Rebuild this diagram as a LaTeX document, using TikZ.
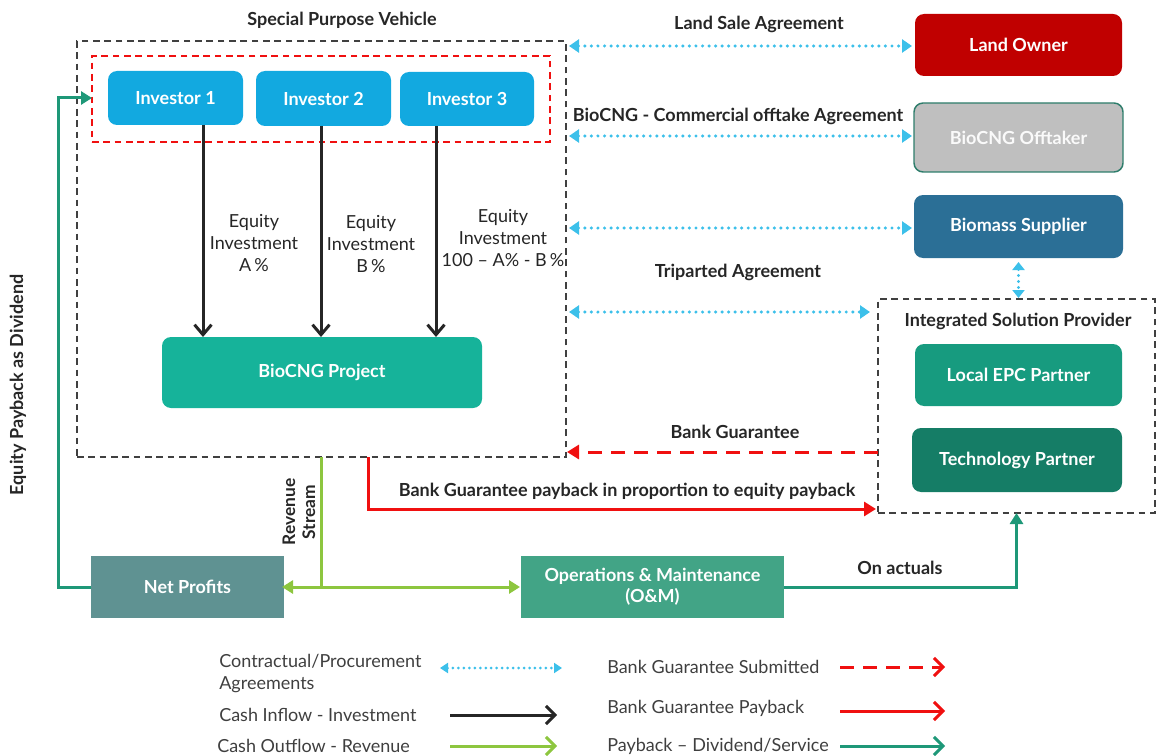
\documentclass[tikz,border=0pt]{standalone}
\usepackage{fontspec}
\setmainfont{Lato}
\usetikzlibrary{arrows.meta,calc}
\definecolor{invc}{HTML}{12A9E0}
\definecolor{agrc}{HTML}{3CC0EA}
\definecolor{projc}{HTML}{16B39A}
\definecolor{landc}{HTML}{C00000}
\definecolor{offc}{HTML}{BFBFBF}
\definecolor{offb}{HTML}{2E7D6B}
\definecolor{bioc}{HTML}{2B6F96}
\definecolor{epcc}{HTML}{179B7F}
\definecolor{techc}{HTML}{157D66}
\definecolor{netc}{HTML}{5F9292}
\definecolor{omc}{HTML}{42A486}
\definecolor{greenc}{HTML}{8DC63F}
\definecolor{tealc}{HTML}{1E9878}
\definecolor{redc}{HTML}{F01010}
\definecolor{darkc}{HTML}{262626}
\definecolor{dashc}{HTML}{404040}
\definecolor{legc}{HTML}{3F3F3F}
\begin{document}
\begin{tikzpicture}[x=0.75pt,y=-0.75pt,
  box/.style={rounded corners=6.75pt, inner sep=0pt, outer sep=0pt, text=white, align=center,
    font=\bfseries\fontsize{13.5}{16}\selectfont},
  sqbox/.style={box, rounded corners=0pt},
  frame/.style={draw=dashc, dash pattern=on 5pt off 3.5pt, line width=1pt, inner sep=0pt, outer sep=0pt},
  lbl/.style={text=darkc, font=\bfseries\fontsize{13.5}{16}\selectfont, align=center, inner sep=0pt},
  eq/.style={text=darkc, font=\fontsize{13.5}{16.2}\selectfont, align=center, inner sep=0pt},
  leg/.style={text=legc, font=\fontsize{13.5}{16.5}\selectfont, align=left, inner sep=0pt, anchor=west},
  inv/.style={draw=darkc, line width=2.25pt, -{Straight Barb[length=7.5pt, width=12.75pt, line width=2.25pt]}},
  agr/.style={draw=agrc, line width=2.6pt, line cap=round, dash pattern=on 0pt off 4.9pt,
    {Triangle[length=7.5pt, width=9.75pt]}-{Triangle[length=7.5pt, width=9.75pt]}},
  agrv/.style={draw=agrc, line width=2.6pt, line cap=round, dash pattern=on 0pt off 4.5pt,
    {Triangle[length=6pt, width=9pt]}-{Triangle[length=6pt, width=9pt]}},
  bgs/.style={draw=redc, line width=2.25pt, dash pattern=on 10.5pt off 6.75pt, -{Triangle[length=9pt, width=10.5pt]}},
  bgp/.style={draw=redc, line width=2.25pt, -{Triangle[length=9pt, width=10.5pt]}},
  cashout/.style={draw=greenc, line width=2.25pt, -{Triangle[length=8.25pt, width=9.75pt]}},
  pay/.style={draw=tealc, line width=2.25pt, -{Triangle[length=8.25pt, width=9.75pt]}},
  legbar/.style={line width=2.25pt, -{Straight Barb[length=6.75pt, width=13.5pt, line width=2.25pt]}},
]
\useasboundingbox (0,0) rectangle (1156,756);

% frames
\node[frame, minimum width=366.75pt, minimum height=312pt] (spv) at (321.5,249) {};
\node[draw=redc, dash pattern=on 5pt off 3.5pt, line width=1pt, inner sep=0pt, outer sep=0pt,
      minimum width=343.5pt, minimum height=64.5pt] (rbox) at (321,99) {};
\node[frame, minimum width=207.75pt, minimum height=160.5pt] (isp) at (1016.5,406) {};

\node[lbl] (spvt) at (342,20) {Special Purpose Vehicle};
\node[lbl] (ispt) at (1018,321) {Integrated Solution Provider};

% investor boxes
\node[box, fill=invc, minimum width=101.25pt, minimum height=40.5pt] (inv1) at (175.5,98) {Investor 1};
\node[box, fill=invc, minimum width=101.25pt, minimum height=41.25pt] (inv2) at (323.5,98.5) {Investor 2};
\node[box, fill=invc, minimum width=100.5pt, minimum height=40.5pt] (inv3) at (467,99) {Investor 3};
\node[box, fill=projc, minimum width=240pt, minimum height=53.25pt] (proj) at (322,372.5) {BioCNG Project};

% right boxes
\node[box, fill=landc, minimum width=155.25pt, minimum height=46.5pt] (land) at (1018.5,45) {Land Owner};
\node[box, fill=offc, draw=offb, line width=1.1pt, text=white!92!offc, minimum width=156.75pt, minimum height=51.75pt] (off) at (1018.5,137.5) {BioCNG Offtaker};
\node[box, fill=bioc, minimum width=156.75pt, minimum height=47.25pt] (bio) at (1018.5,226.5) {Biomass Supplier};
\node[box, fill=epcc, minimum width=155.25pt, minimum height=46.5pt] (epc) at (1018.5,375) {Local EPC Partner};
\node[box, fill=techc, minimum width=157.5pt, minimum height=48pt] (tech) at (1017,460) {Technology Partner};

% bottom boxes
\node[sqbox, fill=netc, minimum width=144.75pt, minimum height=46.5pt] (net) at (187.5,587) {Net Profits};
\node[sqbox, fill=omc, minimum width=197.25pt, minimum height=46.5pt] (om) at (652.5,587) {Operations \& Maintenance\\(O\&M)};

% equity arrows
\coordinate (c1) at (203,0);
\coordinate (c2) at (321,0);
\coordinate (c3) at (436,0);
\draw[inv] (inv1.south -| c1) -- (proj.north -| c1);
\draw[inv] (inv2.south -| c2) -- (proj.north -| c2);
\draw[inv] (inv3.south -| c3) -- (proj.north -| c3);
\node[eq] (e1) at (254,243) {Equity\\Investment\\A\,\%};
\node[eq] (e2) at (371,244) {Equity\\Investment\\B\,\%};
\node[eq] (e3) at (503,238) {Equity\\Investment\\100 -- A\% - B\,\%};

% agreements
\coordinate (ag1) at (0,46);
\coordinate (ag2) at (0,136);
\coordinate (ag3) at (0,228);
\coordinate (ag4) at (0,312);
\draw[agr, shorten <=2.25pt, shorten >=2.25pt] (spv.east |- ag1) -- (land.west |- ag1);
\draw[agr, shorten <=2.25pt, shorten >=1.5pt] (spv.east |- ag2) -- (off.west |- ag2);
\draw[agr, shorten <=2.25pt, shorten >=1.5pt] (spv.east |- ag3) -- (bio.west |- ag3);
\draw[agr, shorten <=2.25pt, shorten >=6pt] (spv.east |- ag4) -- (isp.west |- ag4);
\draw[agrv, shorten <=3pt, shorten >=0.75pt] (bio.south) -- (isp.north -| bio.south);
\node[lbl] (l1) at (759,24) {Land Sale Agreement};
\node[lbl] (l2) at (738,116) {BioCNG - Commercial offtake Agreement};
\node[lbl] (l3) at (738,272) {Triparted Agreement};

% bank guarantee
\coordinate (bg) at (0,452);
\draw[bgs, shorten >=0.75pt] (isp.west |- bg) -- (spv.east |- bg);
\node[lbl] (l4) at (735,432) {Bank Guarantee};
\coordinate (rp) at (368,509);
\draw[bgp, shorten >=1.5pt] (spv.south -| rp) -- (rp) -- (isp.west |- rp);
\node[lbl] (l5) at (627,491) {Bank Guarantee payback in proportion to equity payback};

% revenue
\coordinate (g) at (321,0);
\draw[greenc, line width=2.25pt] (spv.south -| g) -- (g |- net.east);
\draw[cashout, shorten >=-1.5pt] (g |- net.east) -- (net.east);
\draw[cashout, shorten >=0.75pt] (g |- om.west) -- (om.west);
\node[lbl, rotate=90, font=\bfseries\fontsize{13}{15}\selectfont] (l6) at (299,512) {Revenue\\Stream};

% payback
\draw[pay] (om.east) -| (isp.south);
\node[lbl] (l7) at (900,568) {On actuals};
\coordinate (e) at (58,0);
\draw[pay] (net.west) -- (net.west -| e) -- (e |- inv1.west) -- (rbox.west |- inv1.west);
\node[lbl, rotate=90] (l8) at (18,385) {Equity Payback as Dividend};

% legend
\node[leg] (lg1) at (219,674) {Contractual/Procurement\\Agreements};
\node[leg] (lg2) at (219,715) {Cash Inflow - Investment};
\node[leg] (lg3) at (217,746) {Cash Outflow - Revenue};
\node[leg] (lg4) at (607,667) {Bank Guarantee Submitted};
\node[leg] (lg5) at (607,708) {Bank Guarantee Payback};
\node[leg] (lg6) at (607,746) {Payback -- Dividend/Service};
\coordinate (la1) at (440,668); \coordinate (lb1) at (562,668);
\coordinate (la2) at (450,715); \coordinate (lb2) at (557,715);
\coordinate (la3) at (450,746); \coordinate (lb3) at (557,746);
\coordinate (la4) at (840,667); \coordinate (lb4) at (945,667);
\coordinate (la5) at (840,711); \coordinate (lb5) at (945,711);
\coordinate (la6) at (840,746); \coordinate (lb6) at (945,746);
\draw[draw=agrc, line width=2.25pt, line cap=round, dash pattern=on 0pt off 4.1pt, {Triangle[length=6pt, width=7.5pt]}-{Triangle[length=6pt, width=7.5pt]}] (la1) -- (lb1);
\draw[draw=darkc, legbar] (la2) -- (lb2);
\draw[draw=greenc, legbar] (la3) -- (lb3);
\draw[draw=redc, dash pattern=on 10.5pt off 6.75pt, legbar] (la4) -- (lb4);
\draw[draw=redc, legbar] (la5) -- (lb5);
\draw[draw=tealc, legbar] (la6) -- (lb6);
\end{tikzpicture}
\end{document}
